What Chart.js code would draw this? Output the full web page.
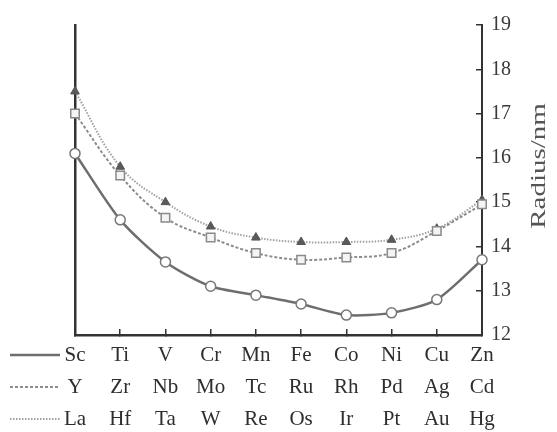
<!DOCTYPE html>
<html>
<head>
<meta charset="utf-8">
<script src="https://cdn.jsdelivr.net/npm/chart.js@4"></script>
<style>
  html, body { margin: 0; padding: 0; background: #fff; }
  #wrap { width: 557px; height: 432px; position: relative; }
</style>
</head>
<body>
<div id="wrap"><canvas id="c"></canvas></div>
<script>
// categories: three rows of elements under each tick (3d / 4d / 5d)
const row3d = ['Sc', 'Ti', 'V', 'Cr', 'Mn', 'Fe', 'Co', 'Ni', 'Cu', 'Zn'];
const row4d = ['Y', 'Zr', 'Nb', 'Mo', 'Tc', 'Ru', 'Rh', 'Pd', 'Ag', 'Cd'];
const row5d = ['La', 'Hf', 'Ta', 'W', 'Re', 'Os', 'Ir', 'Pt', 'Au', 'Hg'];

// radius values
const r3d = [16.1, 14.6, 13.65, 13.1, 12.9, 12.7, 12.45, 12.5, 12.8, 13.7];
const r4d = [17.0, 15.6, 14.65, 14.2, 13.85, 13.7, 13.75, 13.85, 14.35, 14.95];
const r5d = [17.5, 15.8, 15.0, 14.45, 14.2, 14.1, 14.1, 14.15, 14.4, 15.05];

const yTicks = [12, 13, 14, 15, 16, 17, 18, 19];
const yTitle = 'Radius/nm';

const labels = row3d.map((s, i) => [s, row4d[i], row5d[i]]);

const FONT = "'Liberation Serif', 'DejaVu Serif', serif";
const X_PAD = 10, X_TL = -6, X_LH = 32;

// line samples left of each label row + the upward-reading axis title
const extras = {
  id: 'extras',
  afterDraw(chart) {
    const { ctx, chartArea } = chart;
    const x = chart.scales.x;
    chart.data.datasets.forEach((ds, i) => {
      const y = x.top + X_TL + X_PAD + X_LH * (i + 0.5);
      ctx.save();
      ctx.strokeStyle = ds.borderColor;
      ctx.lineWidth = ds.borderWidth;
      ctx.setLineDash(ds.borderDash || []);
      ctx.beginPath();
      ctx.moveTo(10, y);
      ctx.lineTo(60, y);
      ctx.stroke();
      ctx.restore();
    });

    ctx.save();
    ctx.translate(chartArea.right + 58, 166);
    ctx.rotate(-Math.PI / 2);
    ctx.scale(1.45, 1);
    ctx.font = `20px ${FONT}`;
    ctx.fillStyle = '#555';
    ctx.textAlign = 'center';
    ctx.textBaseline = 'middle';
    ctx.fillText(yTitle, 0, 0);
    ctx.restore();
  },
};

new Chart(document.getElementById('c'), {
  type: 'line',
  data: {
    labels,
    datasets: [
      {
        label: '3d', data: r3d,
        borderColor: '#6e6e6e', borderWidth: 2.5, tension: 0.25,
        pointStyle: 'circle', pointRadius: 5, pointBorderWidth: 1.5,
        pointBorderColor: '#777', pointBackgroundColor: '#fff',
      },
      {
        label: '4d', data: r4d,
        borderColor: '#8c8c8c', borderWidth: 2, borderDash: [3, 2], tension: 0.4,
        pointStyle: 'rect', pointRadius: 6, pointBorderWidth: 1.5,
        pointBorderColor: '#8a8a8a', pointBackgroundColor: '#f4f4f4',
      },
      {
        label: '5d', data: r5d,
        borderColor: '#a0a0a0', borderWidth: 2, borderDash: [1.5, 1.5], tension: 0.4,
        pointStyle: 'triangle', pointRadius: 5, pointBorderWidth: 1,
        pointBorderColor: '#555', pointBackgroundColor: '#5a5a5a',
      },
    ],
  },
  options: {
    responsive: true, maintainAspectRatio: false,
    animation: false,
    clip: false,
    layout: { padding: { left: 75, right: 31, top: 21, bottom: 0 } },
    plugins: { legend: { display: false }, tooltip: { enabled: false } },
    scales: {
      x: {
        type: 'category', offset: false,
        afterFit: s => { s.height -= 13; },
        grid: { display: true, drawOnChartArea: false, drawTicks: true, tickLength: X_TL, color: '#333', lineWidth: 1.5 },
        border: { display: true, color: '#333', width: 2.5 },
        ticks: { color: '#2e2e2e', padding: X_PAD, autoSkip: false, maxRotation: 0,
                 font: { family: FONT, size: 21, lineHeight: X_LH / 21 } },
      },
      y: {
        position: 'right', min: 12, max: 19,
        afterBuildTicks: s => { s.ticks = yTicks.map(v => ({ value: v })); },
        grid: { display: true, drawOnChartArea: false, drawTicks: true, tickLength: -6, color: '#333', lineWidth: 1.5 },
        border: { display: true, color: '#333', width: 2 },
        ticks: { color: '#3a3a3a', padding: 15, font: { family: FONT, size: 20, lineHeight: 1 } },
      },
      yL: {
        position: 'left', min: 12, max: 19,
        grid: { display: false, drawTicks: false },
        border: { display: true, color: '#333', width: 2.5 },
        ticks: { display: false },
      },
    },
  },
  plugins: [extras],
});
</script>
</body>
</html>
